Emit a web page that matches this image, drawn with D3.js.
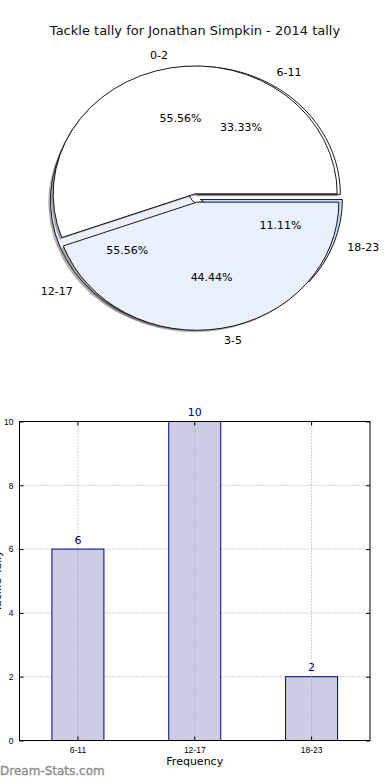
<!DOCTYPE html>
<html>
<head>
<meta charset="utf-8">
<script src="https://cdn.jsdelivr.net/npm/d3@7"></script>
<style>
  body { margin: 0; background: #fff; }
  svg { display: block; font-family: "DejaVu Sans", sans-serif; }
</style>
</head>
<body>
<svg id="chart" width="390" height="780"></svg>
<script>
// data
var title = "Tackle tally for Jonathan Simpkin - 2014 tally";
var pie1Labels = ["0-2", "3-5"];
var pie1Values = [5, 4];
var pie1Colors = ["#ffffff", "#eaf0fc"];
var pie2Labels = ["6-11", "12-17", "18-23"];
var pie2Values = [6, 10, 2];
var pie2Colors = ["#ffffff", "#eaf0fc", "#c6d9f7"];
var barCategories = ["6-11", "12-17", "18-23"];
var barValues = [6, 10, 2];
var yTicks = [0, 2, 4, 6, 8, 10];

var svg = d3.select("#chart");

svg.append("text")
    .attr("x", 195).attr("y", 35)
    .attr("text-anchor", "middle")
    .attr("font-size", 13)
    .attr("fill", "#111")
    .text(title);

// ---- pie section (elliptical, like the stretched matplotlib axes)
var cx = 196, cy = 198, rx = 142, ry = 128;
var explode = 0.033;
var px = d3.scaleLinear().domain([-1, 1]).range([cx - rx, cx + rx]);
var py = d3.scaleLinear().domain([-1, 1]).range([cy + ry, cy - ry]);

// matplotlib starts at 3 o'clock and goes counterclockwise
var pie = d3.pie().sort(null).startAngle(Math.PI / 2).endAngle(Math.PI / 2 - 2 * Math.PI);
var arc = d3.arc().innerRadius(0).outerRadius(1);

var pieG = svg.append("g");
var textG = svg.append("g");

function drawPie(labels, values, colors) {
    var total = d3.sum(values);
    var slices = pie(values);
    slices.forEach(function(s) {
        var mid = (s.startAngle + s.endAngle) / 2;
        s.ux = Math.sin(mid);
        s.uy = Math.cos(mid);
        s.ox = explode * s.ux;
        s.oy = explode * s.uy;
    });

    // shadows first
    pieG.selectAll(null)
        .data(slices)
        .enter().append("path")
        .attr("d", arc)
        .attr("transform", function(s) {
            return "translate(" + px(s.ox - 0.015) + "," + py(s.oy - 0.015) + ") scale(" + rx + "," + ry + ")";
        })
        .attr("fill", "#4d4d4d")
        .attr("fill-opacity", 0.45);

    pieG.selectAll(null)
        .data(slices)
        .enter().append("path")
        .attr("d", arc)
        .attr("transform", function(s) {
            return "translate(" + px(s.ox) + "," + py(s.oy) + ") scale(" + rx + "," + ry + ")";
        })
        .attr("fill", function(s, i) { return colors[i]; })
        .attr("stroke", "#000")
        .attr("stroke-width", 0.9)
        .attr("vector-effect", "non-scaling-stroke")
        .attr("stroke-linejoin", "miter");

    slices.forEach(function(s, i) {
        textG.append("text")
            .attr("x", px(s.ox + 1.1 * s.ux))
            .attr("y", py(s.oy + 1.1 * s.uy))
            .attr("text-anchor", s.ux >= 0 ? "start" : "end")
            .attr("dominant-baseline", "central")
            .attr("font-size", 11)
            .text(labels[i]);
        textG.append("text")
            .attr("x", px(s.ox + 0.6 * s.ux))
            .attr("y", py(s.oy + 0.6 * s.uy))
            .attr("text-anchor", "middle")
            .attr("dominant-baseline", "central")
            .attr("font-size", 11)
            .text((100 * values[i] / total).toFixed(2) + "%");
    });
}

drawPie(pie2Labels, pie2Values, pie2Colors);
drawPie(pie1Labels, pie1Values, pie1Colors);

// ---- bar section
var plotLeft = 19.5, plotRight = 370, plotTop = 421.5, plotBottom = 740.5;
var x = d3.scaleBand().domain(barCategories).range([plotLeft, plotRight])
    .paddingInner(0.555).paddingOuter(0.2775);
var y = d3.scaleLinear().domain([0, 10]).range([plotBottom, plotTop]);

var barG = svg.append("g");

// grid
barG.selectAll(".hgrid")
    .data(yTicks)
    .enter().append("line")
    .attr("x1", plotLeft).attr("x2", plotRight)
    .attr("y1", function(d) { return y(d); })
    .attr("y2", function(d) { return y(d); })
    .attr("stroke", "#a0a0a0")
    .attr("stroke-width", 1)
    .attr("stroke-dasharray", "1,2");

barG.selectAll(".bar")
    .data(barValues)
    .enter().append("rect")
    .attr("x", function(d, i) { return x(barCategories[i]); })
    .attr("y", function(d) { return y(d); })
    .attr("width", x.bandwidth())
    .attr("height", function(d) { return y(0) - y(d); })
    .attr("fill", "#ccccE4")
    .attr("stroke", "#000080")
    .attr("stroke-width", 1);

barG.selectAll(".vgrid")
    .data(barCategories)
    .enter().append("line")
    .attr("x1", function(d) { return x(d) + x.bandwidth() / 2; })
    .attr("x2", function(d) { return x(d) + x.bandwidth() / 2; })
    .attr("y1", plotTop).attr("y2", plotBottom)
    .attr("stroke", "#a0a0a0")
    .attr("stroke-width", 1)
    .attr("stroke-dasharray", "1,2");

barG.selectAll(".val")
    .data(barValues)
    .enter().append("text")
    .attr("x", function(d, i) { return x(barCategories[i]) + x.bandwidth() / 2; })
    .attr("y", function(d) { return y(d) - 5.5; })
    .attr("text-anchor", "middle")
    .attr("font-size", 11)
    .attr("fill", "#000080")
    .text(function(d) { return d; });

// axes with inward ticks
var yAxis = d3.axisLeft(y).tickValues(yTicks).tickSizeInner(-4).tickSizeOuter(0).tickPadding(6);
var yAxisR = d3.axisRight(y).tickValues(yTicks).tickSizeInner(-4).tickSizeOuter(0).tickFormat("");
var xAxis = d3.axisBottom(x).tickSizeInner(-4).tickSizeOuter(0).tickPadding(6);
var xAxisT = d3.axisTop(x).tickSizeInner(-4).tickSizeOuter(0).tickFormat("");

function styleAxis(g) {
    g.select(".domain").remove();
    g.selectAll("line").attr("stroke", "#000");
    g.selectAll("text").attr("font-size", 8.5).attr("fill", "#000");
}

svg.append("g").attr("transform", "translate(" + plotLeft + ",0)").call(yAxis).call(styleAxis);
svg.append("g").attr("transform", "translate(" + plotRight + ",0)").call(yAxisR).call(styleAxis);
svg.append("g").attr("transform", "translate(0," + plotBottom + ")").call(xAxis).call(styleAxis);
svg.append("g").attr("transform", "translate(0," + plotTop + ")").call(xAxisT).call(styleAxis);

svg.append("rect")
    .attr("x", plotLeft).attr("y", plotTop)
    .attr("width", plotRight - plotLeft).attr("height", plotBottom - plotTop)
    .attr("fill", "none")
    .attr("stroke", "#000")
    .attr("stroke-width", 1);

svg.append("text")
    .attr("x", (plotLeft + plotRight) / 2).attr("y", 765)
    .attr("text-anchor", "middle")
    .attr("font-size", 11)
    .text("Frequency");

svg.append("text")
    .attr("transform", "translate(1,581) rotate(-90)")
    .attr("text-anchor", "middle")
    .attr("font-size", 11)
    .text("Tackle Tally");

svg.append("text")
    .attr("x", 0).attr("y", 775)
    .attr("font-size", 12)
    .attr("fill", "#8a8a8a")
    .attr("stroke", "#8a8a8a")
    .attr("stroke-width", 0.3)
    .text("Dream-Stats.com");
</script>
</body>
</html>
